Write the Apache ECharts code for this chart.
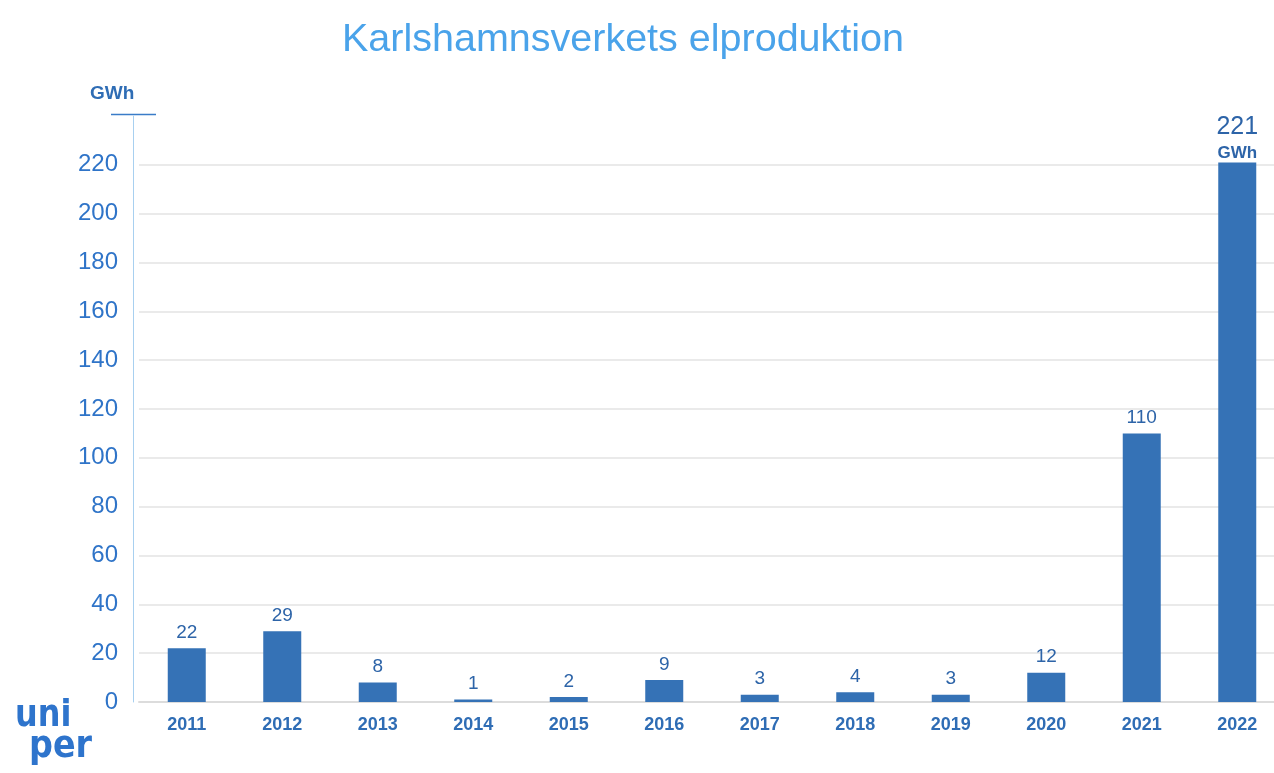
<!DOCTYPE html>
<html><head><meta charset="utf-8">
<script src="https://cdn.jsdelivr.net/npm/echarts@6/dist/echarts.min.js"></script>
<style>html,body{margin:0;padding:0;background:#fff;overflow:hidden;width:1274px;height:773px;}#c{width:1290px;height:773px;}</style>
</head><body><div id="c"></div>
<script>
const years = ['2011','2012','2013','2014','2015','2016','2017','2018','2019','2020','2021','2022'];
const production = [22, 29, 8, 1, 2, 9, 3, 4, 3, 12, 110, 221];
const unitLabel = 'GWh';
const titleText = 'Karlshamnsverkets elproduktion';

const chart = echarts.init(document.getElementById('c'));
const lastIdx = production.length - 1;
chart.setOption({
  backgroundColor: '#ffffff',
  animation: false,
  title: {
    text: titleText, left: 618, top: 15, textAlign: 'center',
    textStyle: { color: '#4aa3ea', fontSize: 39.5, fontWeight: 'normal', fontFamily: 'Liberation Sans' }
  },
  grid: { left: 139, right: 5, top: 116, bottom: 71, containLabel: false },
  xAxis: {
    type: 'category', data: years,
    axisLine: { show: true, lineStyle: { color: '#dcdcdc', width: 2 } },
    axisTick: { show: false },
    axisLabel: { color: '#2f6db5', fontSize: 18, fontWeight: 'bold', fontFamily: 'Liberation Sans', margin: 14 }
  },
  yAxis: {
    type: 'value', min: 0, max: 240, interval: 20, offset: 6,
    axisLine: { show: true, lineStyle: { color: '#a8d0f0', width: 1 } },
    axisTick: { show: false },
    splitLine: { show: true, showMaxLine: false, lineStyle: { color: '#e3e3e3', width: 1.5 } },
    axisLabel: {
      color: '#2f74c8', fontSize: 24, fontFamily: 'Liberation Sans', margin: 15,
      formatter: v => v === 240 ? '' : String(v)
    }
  },
  series: [{
    type: 'bar', data: production.map((v, i) => i === lastIdx ? {
      value: v,
      label: { formatter: '{a|{c}}\n{b|' + unitLabel + '}', distance: 0 }
    } : v),
    barWidth: 38,
    itemStyle: { color: '#3572b6' },
    label: {
      show: true, position: 'top', distance: 6,
      color: '#2d64a8', fontSize: 19, fontFamily: 'Liberation Sans',
      rich: {
        a: { fontSize: 25, color: '#2d64a8', fontFamily: 'Liberation Sans', lineHeight: 34 },
        b: { fontSize: 17, fontWeight: 'bold', color: '#2d64a8', fontFamily: 'Liberation Sans', lineHeight: 18 }
      }
    }
  }],
  graphic: [
    { type: 'text', left: 90, top: 84, style: { text: unitLabel, fill: '#2f6db5', font: 'bold 19px "Liberation Sans"' } },
    { type: 'line', shape: { x1: 111, y1: 114.5, x2: 156, y2: 114.5 }, style: { stroke: '#3a7cc8', lineWidth: 1.5 } },
    { type: 'text', x: 15, y: 716, scaleX: 0.84, style: { text: 'uni', fill: '#2e74cc', font: 'bold 38px "DejaVu Sans"', verticalAlign: 'middle' } },
    { type: 'text', x: 29, y: 747, scaleX: 0.88, style: { text: 'per', fill: '#2e74cc', font: 'bold 38px "DejaVu Sans"', verticalAlign: 'middle' } }
  ]
});
</script></body></html>
